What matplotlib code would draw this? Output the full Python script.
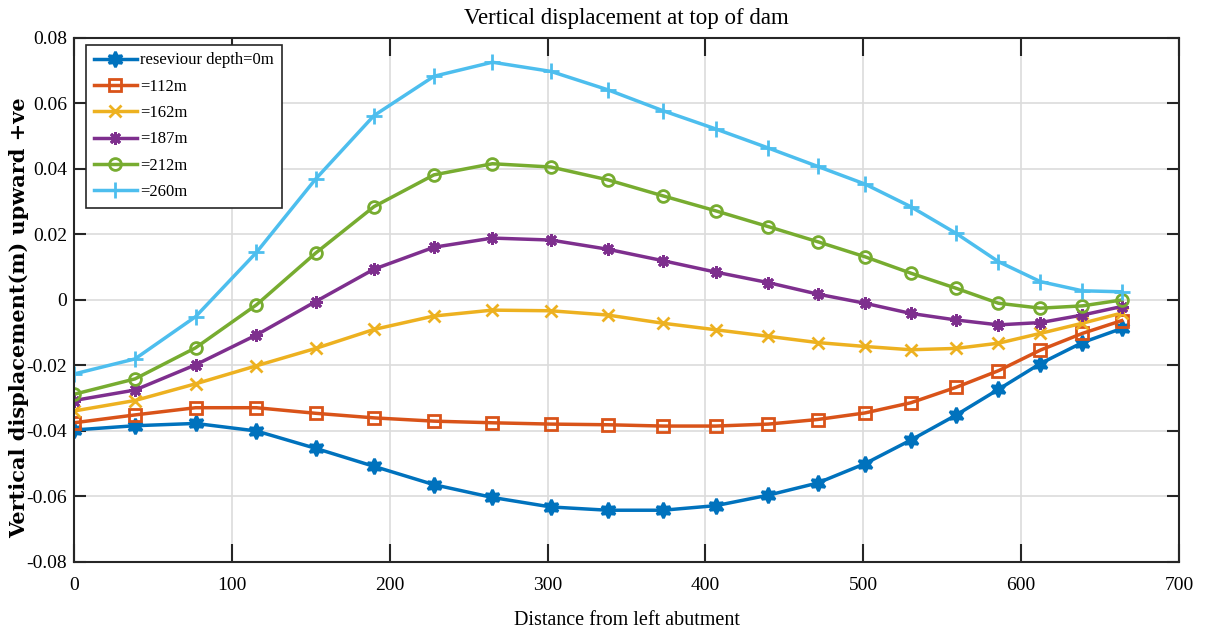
import numpy as np
import matplotlib
matplotlib.use('Agg')
import matplotlib.pyplot as plt

plt.rcParams['font.family'] = ['Liberation Serif', 'DejaVu Serif']

# distance of each node from the left abutment
dist = [0, 38.6, 77, 115.5, 153, 190, 228, 265, 302, 338, 373, 406.6,
        439.8, 471, 501, 530, 558.6, 585.6, 612.2, 638.8, 663.7]

# vertical displacement (m) for each reservoir depth
d0 = [-0.0397, -0.0384, -0.0377, -0.0400, -0.0453, -0.0508, -0.0564, -0.0603,
      -0.0632, -0.0642, -0.0642, -0.0628, -0.0596, -0.0559, -0.0500, -0.0428,
      -0.0352, -0.0273, -0.0194, -0.0130, -0.0087]
d112 = [-0.0375, -0.0351, -0.0329, -0.0329, -0.0346, -0.0360, -0.0370, -0.0375,
        -0.0379, -0.0381, -0.0385, -0.0385, -0.0379, -0.0365, -0.0345, -0.0314,
        -0.0267, -0.0216, -0.0153, -0.0102, -0.0063]
d162 = [-0.0339, -0.0307, -0.0256, -0.0201, -0.0148, -0.0090, -0.0049, -0.0031,
        -0.0033, -0.0046, -0.0071, -0.0091, -0.0111, -0.0130, -0.0142, -0.0152,
        -0.0148, -0.0132, -0.0102, -0.0071, -0.0040]
d187 = [-0.0307, -0.0275, -0.0198, -0.0107, -0.0005, 0.0094, 0.0161, 0.0189,
        0.0183, 0.0155, 0.0120, 0.0085, 0.0053, 0.0018, -0.0010, -0.0041,
        -0.0061, -0.0076, -0.0069, -0.0046, -0.0020]
d212 = [-0.0288, -0.0241, -0.0146, -0.0015, 0.0143, 0.0285, 0.0382, 0.0416,
        0.0406, 0.0367, 0.0318, 0.0272, 0.0224, 0.0178, 0.0132, 0.0082,
        0.0036, -0.0010, -0.0025, -0.0018, 0.0000]
d260 = [-0.0226, -0.0180, -0.0051, 0.0145, 0.0369, 0.0563, 0.0683, 0.0726,
        0.0698, 0.0642, 0.0578, 0.0522, 0.0464, 0.0408, 0.0354, 0.0285,
        0.0204, 0.0117, 0.0056, 0.0028, 0.0025]

labels = ['reseviour depth=0m', '=112m', '=162m', '=187m', '=212m', '=260m']
colors = ['#0072BD', '#D95319', '#EDB120', '#7E2F8E', '#77AC30', '#4DBEEE']
markers = [(6, 1, 0), 's', 'x', (8, 2, 0), 'o', '+']
msizes = [11, 8, 9, 9, 8.5, 11]

fig = plt.figure(figsize=(12.1, 6.36), dpi=100)
ax = fig.add_axes([0.0612, 0.1164, 0.9132, 0.8239])

for y, lab, c, m, ms in zip([d0, d112, d162, d187, d212, d260],
                            labels, colors, markers, msizes):
    ax.plot(dist, y, color=c, marker=m, markersize=ms, markeredgewidth=2,
            markerfacecolor='none' if m in ('s', 'o') else c,
            linewidth=2.5, label=lab)

ax.set_xlim(0, 700)
ax.set_ylim(-0.08, 0.08)
ax.set_xticks(np.arange(0, 701, 100))
yt = np.arange(-0.08, 0.081, 0.02)
ax.set_yticks(yt)
ax.set_yticklabels(['0' if abs(v) < 1e-9 else f'{v:.2f}' for v in yt])
ax.grid(True, color='#dcdcdc', linewidth=1.2)
ax.set_axisbelow(True)

ax.tick_params(axis='both', direction='in', top=True, right=True,
               labelsize=14, width=1.5, color='#262626')
ax.tick_params(axis='x', length=13, pad=11)
ax.tick_params(axis='y', length=8.5, pad=5)
for s in ax.spines.values():
    s.set_linewidth(1.5)
    s.set_color('#262626')

ax.set_title('Vertical displacement at top of dam', fontsize=16.5, pad=10)
ax.set_xlabel('Distance from left abutment', fontsize=14.5, labelpad=12)
ax.set_ylabel('Vertical displacement(m) upward +ve', fontsize=15,
              family='DejaVu Serif', fontweight='bold')
ax.yaxis.set_label_coords(-0.0405, 0.466)

leg = ax.legend(loc='upper left', fontsize=12, handlelength=2.6,
                handletextpad=0.2, labelspacing=0.62, borderpad=0.45,
                borderaxespad=0, fancybox=False, framealpha=1,
                edgecolor='#262626', bbox_to_anchor=(0.011, 0.9866))
leg.get_frame().set_linewidth(1.2)

fig.savefig('out.png', dpi=100)
